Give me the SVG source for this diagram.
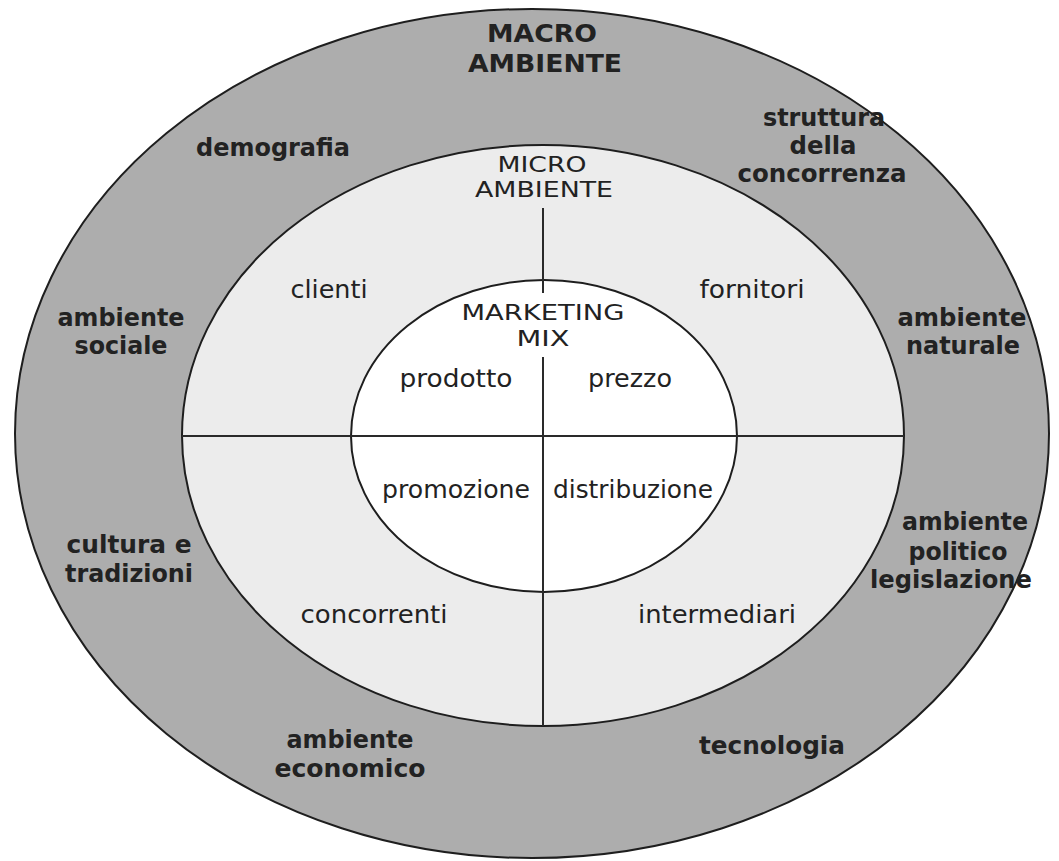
<svg xmlns="http://www.w3.org/2000/svg" width="1059" height="861" viewBox="0 0 1059 861">
<style>
.ring{stroke:#1e1e1e;stroke-width:2}
.div{stroke:#2a2a2a;stroke-width:2;fill:none}
text{font-family:"DejaVu Sans","Liberation Sans",sans-serif;fill:#222;text-anchor:middle}
.b{font-weight:bold;font-size:24px}
.bt{font-weight:bold;font-size:24px}
.r{font-size:24px}
.rc{font-size:22px}
.rm{font-size:22px}
</style>
<rect width="1059" height="861" fill="#ffffff"/>
<g id="macro">
<ellipse class="ring" cx="532" cy="433.5" rx="517" ry="424.5" fill="#adadad"/>
<text class="bt" x="542" y="42" textLength="110" lengthAdjust="spacingAndGlyphs">MACRO</text>
<text class="bt" x="545" y="72" textLength="154" lengthAdjust="spacingAndGlyphs">AMBIENTE</text>
<text class="b" x="273" y="156" textLength="154" lengthAdjust="spacingAndGlyphs">demografia</text>
<text class="b" x="824" y="126" textLength="122" lengthAdjust="spacingAndGlyphs">struttura</text>
<text class="b" x="823" y="154" textLength="67" lengthAdjust="spacingAndGlyphs">della</text>
<text class="b" x="822" y="182" textLength="169" lengthAdjust="spacingAndGlyphs">concorrenza</text>
<text class="b" x="121" y="326" textLength="127" lengthAdjust="spacingAndGlyphs">ambiente</text>
<text class="b" x="121" y="354" textLength="93" lengthAdjust="spacingAndGlyphs">sociale</text>
<text class="b" x="962" y="326" textLength="129" lengthAdjust="spacingAndGlyphs">ambiente</text>
<text class="b" x="963" y="354" textLength="114" lengthAdjust="spacingAndGlyphs">naturale</text>
<text class="b" x="129" y="553" textLength="125" lengthAdjust="spacingAndGlyphs">cultura e</text>
<text class="b" x="129" y="582" textLength="128" lengthAdjust="spacingAndGlyphs">tradizioni</text>
<text class="b" x="965" y="530" textLength="126" lengthAdjust="spacingAndGlyphs">ambiente</text>
<text class="b" x="958" y="560" textLength="99" lengthAdjust="spacingAndGlyphs">politico</text>
<text class="b" x="951" y="588" textLength="162" lengthAdjust="spacingAndGlyphs">legislazione</text>
<text class="b" x="350" y="748" textLength="127" lengthAdjust="spacingAndGlyphs">ambiente</text>
<text class="b" x="350" y="777" textLength="151" lengthAdjust="spacingAndGlyphs">economico</text>
<text class="b" x="772" y="754" textLength="146" lengthAdjust="spacingAndGlyphs">tecnologia</text>
</g>
<g id="micro">
<ellipse class="ring" cx="543" cy="435.5" rx="361" ry="290.5" fill="#ececec"/>
<text class="rc" x="542" y="172" textLength="89" lengthAdjust="spacingAndGlyphs">MICRO</text>
<text class="rc" x="544" y="197" textLength="138" lengthAdjust="spacingAndGlyphs">AMBIENTE</text>
<text class="r" x="329" y="298" textLength="77" lengthAdjust="spacingAndGlyphs">clienti</text>
<text class="r" x="752" y="298" textLength="105" lengthAdjust="spacingAndGlyphs">fornitori</text>
<text class="r" x="374" y="623" textLength="147" lengthAdjust="spacingAndGlyphs">concorrenti</text>
<text class="r" x="717" y="623" textLength="158" lengthAdjust="spacingAndGlyphs">intermediari</text>
</g>
<g id="marketing-mix">
<ellipse class="ring" cx="544" cy="436" rx="193" ry="156" fill="#ffffff"/>
<text class="rm" x="543" y="320" textLength="163" lengthAdjust="spacingAndGlyphs">MARKETING</text>
<text class="rm" x="543" y="346" textLength="53" lengthAdjust="spacingAndGlyphs">MIX</text>
<text class="r" x="456" y="387" textLength="113" lengthAdjust="spacingAndGlyphs">prodotto</text>
<text class="r" x="630" y="387" textLength="84" lengthAdjust="spacingAndGlyphs">prezzo</text>
<text class="r" x="456" y="498" textLength="148" lengthAdjust="spacingAndGlyphs">promozione</text>
<text class="r" x="633" y="498" textLength="160" lengthAdjust="spacingAndGlyphs">distribuzione</text>
</g>
<g id="connectors">
<line class="div" x1="182" y1="436" x2="904" y2="436" stroke-width="2.5" stroke="#3a3a3a"/>
<line class="div" x1="543" y1="208" x2="543" y2="293"/>
<line class="div" x1="543" y1="357" x2="543" y2="726"/>
</g>
</svg>
